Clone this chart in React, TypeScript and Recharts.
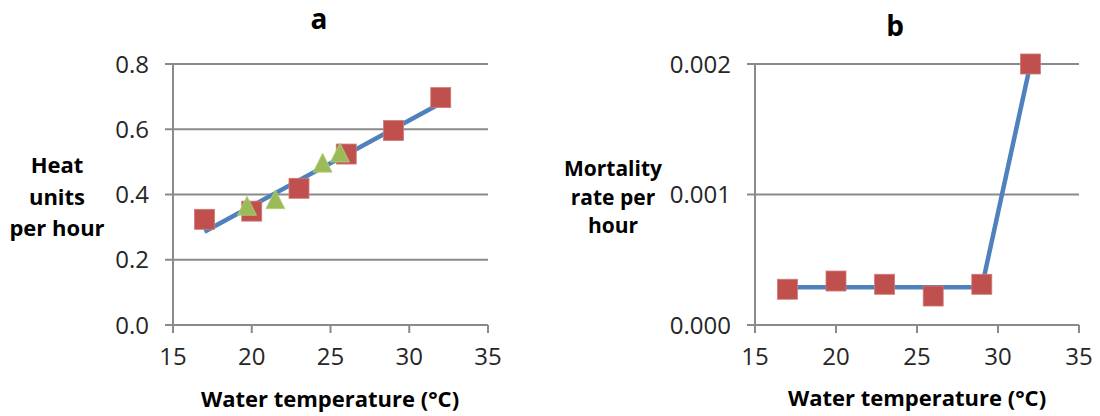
import React from 'react';
import { ScatterChart, Scatter, XAxis, YAxis, CartesianGrid } from 'recharts';

// panel a: heat units
const tempA = [17, 20, 23, 26, 29, 32];
const heatA = [0.324, 0.349, 0.419, 0.524, 0.596, 0.697];
const triTemp = [19.7, 21.5, 24.5, 25.6];
const triHeat = [0.358, 0.378, 0.49, 0.521];
const fitTemp = [17, 32];
const fitHeat = [0.286, 0.68];

// panel b: mortality
const tempB = [17, 20, 23, 26, 29, 32];
const mortB = [0.000274, 0.000337, 0.000312, 0.000222, 0.000312, 0.002];
const mortLineTemp = [17, 29, 32];
const mortLineRate = [0.00029, 0.00029, 0.002];

const xTicks = [15, 20, 25, 30, 35];
const heatTicks = [0, 0.2, 0.4, 0.6, 0.8];
const mortTicks = [0, 0.001, 0.002];

const toPts = (xs: number[], ys: number[]) => xs.map((x, i) => ({ x, y: ys[i] }));

const FONT = '"Open Sans", "Liberation Sans", sans-serif';
const GRID = '#8a8a8a';
const BLUE = '#4F81BD';
const RED = '#C0504D';
const GREEN = '#9BBB59';

const Square = (p: any) => (
  <rect x={p.cx - 10} y={p.cy - 10} width={20} height={20} fill={RED} stroke="#cf7a77" strokeWidth={0.8} />
);
const Triangle = (p: any) => (
  <polygon
    points={`${p.cx},${p.cy - 12} ${p.cx + 9.5},${p.cy + 7} ${p.cx - 9.5},${p.cy + 7}`}
    fill={GREEN}
    stroke="#b3cf7f"
    strokeWidth={0.8}
  />
);
const Nothing = () => <g />;

const tickStyle = { fill: '#262626', fontSize: 24, fontFamily: FONT };

type PanelProps = {
  left: number;
  marginLeft: number;
  marginRight: number;
  yTicks: number[];
  digits: number;
  children: React.ReactNode;
};

function Panel({ left, marginLeft, marginRight, yTicks, digits, children }: PanelProps) {
  return (
    <div style={{ position: 'absolute', left, top: 0 }}>
      <ScatterChart
        width={550}
        height={416}
        margin={{ top: 64, right: marginRight, bottom: 51, left: marginLeft }}
      >
        <CartesianGrid vertical={false} stroke={GRID} strokeWidth={2} />
        <XAxis
          type="number"
          dataKey="x"
          domain={[15, 35]}
          ticks={xTicks}
          height={40}
          stroke={GRID}
          strokeWidth={2}
          tickSize={8}
          tickMargin={15}
          tick={tickStyle}
          allowDataOverflow
        />
        <YAxis
          type="number"
          dataKey="y"
          domain={[yTicks[0], yTicks[yTicks.length - 1]]}
          ticks={yTicks}
          width={60}
          stroke={GRID}
          strokeWidth={2}
          tickSize={8}
          tickMargin={16}
          tick={tickStyle}
          tickFormatter={(v: number) => v.toFixed(digits)}
        />
        {children}
      </ScatterChart>
    </div>
  );
}

const labelStyle: React.CSSProperties = {
  position: 'absolute',
  fontFamily: FONT,
  fontWeight: 700,
  color: '#000',
  textAlign: 'center',
};

export default function App() {
  return (
    <div style={{ position: 'fixed', left: 0, top: 0, width: 1100, height: 416, background: '#fff', overflow: 'hidden' }}>
      <Panel left={0} marginLeft={113} marginRight={62} yTicks={heatTicks} digits={1}>
        <Scatter data={toPts(fitTemp, fitHeat)} line={{ stroke: BLUE, strokeWidth: 4.5 }} shape={Nothing} isAnimationActive={false} />
        <Scatter data={toPts(tempA, heatA)} shape={Square} isAnimationActive={false} />
        <Scatter data={toPts(triTemp, triHeat)} shape={Triangle} isAnimationActive={false} />
      </Panel>
      <Panel left={550} marginLeft={145} marginRight={21} yTicks={mortTicks} digits={3}>
        <Scatter data={toPts(mortLineTemp, mortLineRate)} line={{ stroke: BLUE, strokeWidth: 4.5 }} shape={Nothing} isAnimationActive={false} />
        <Scatter data={toPts(tempB, mortB)} shape={Square} isAnimationActive={false} />
      </Panel>

      <div style={{ ...labelStyle, left: 299, top: 1, width: 40, fontSize: 28, lineHeight: '34px' }}>a</div>
      <div style={{ ...labelStyle, left: 875, top: 8, width: 40, fontSize: 28, lineHeight: '34px' }}>b</div>

      <div style={{ ...labelStyle, left: -3, top: 149, width: 120, fontSize: 22, lineHeight: '31.5px' }}>
        Heat<br />units<br />per hour
      </div>
      <div style={{ ...labelStyle, left: 553, top: 154, width: 120, fontSize: 21, lineHeight: '28.5px' }}>
        Mortality<br />rate per<br />hour
      </div>

      <div style={{ ...labelStyle, left: 180, top: 382, width: 300, fontSize: 22, lineHeight: '32px' }}>
        Water temperature (°C)
      </div>
      <div style={{ ...labelStyle, left: 767, top: 381, width: 300, fontSize: 22, lineHeight: '32px' }}>
        Water temperature (°C)
      </div>
    </div>
  );
}
